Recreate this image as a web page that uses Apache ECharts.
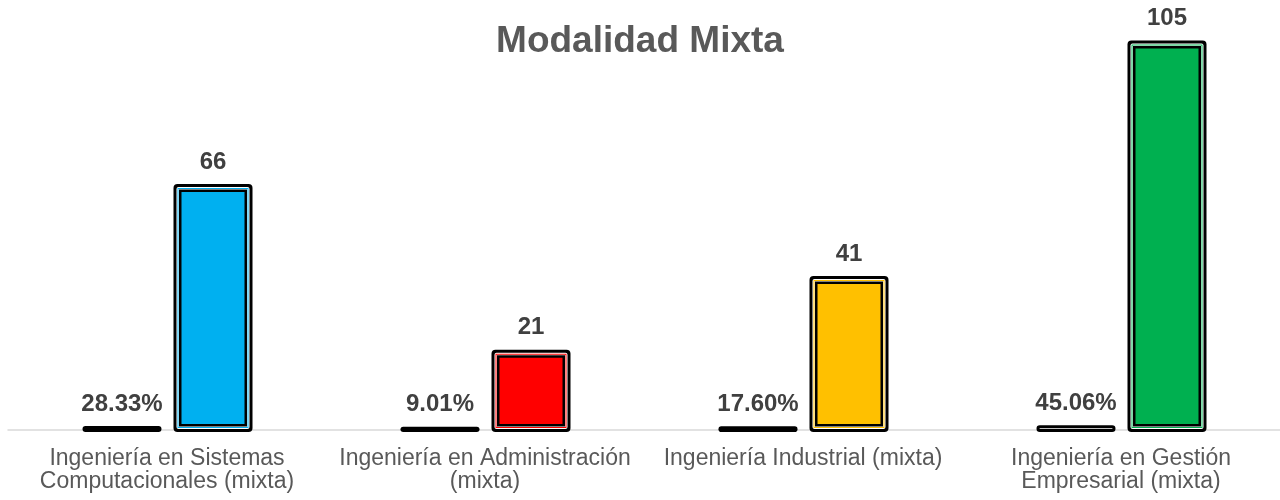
<!DOCTYPE html>
<html>
<head>
<meta charset="utf-8">
<script src="https://cdn.jsdelivr.net/npm/echarts@6/dist/echarts.min.js"></script>
<style>
  html, body { margin: 0; padding: 0; background: #fff; }
  #main { width: 1280px; height: 500px; }
</style>
</head>
<body>
<div id="main"></div>
<script>
// data
const categories = [
  "Ingeniería en Sistemas\nComputacionales (mixta)",
  "Ingeniería en Administración\n(mixta)",
  "Ingeniería Industrial (mixta)",
  "Ingeniería en Gestión\nEmpresarial (mixta)"
];
const shares = [0.2833, 0.0901, 0.1760, 0.4506];
const counts = [66, 21, 41, 105];
const barColors = ["#00B0F0", "#FF0000", "#FFC000", "#00B050"];

const BAR_W = 79;
const FONT = "Liberation Sans, Arial, sans-serif";

// framed bar: black outer frame, white gap, thin colour line, black inner frame, fill
function framedBar(offset, fmt) {
  return function (params, api) {
    const idx = api.value(0);
    const val = api.value(1);
    const base = api.coord([idx, 0]);
    const top = api.coord([idx, val]);
    const cx = base[0] + offset;
    const x0 = cx - BAR_W / 2;
    const y0 = top[1] - 3;
    const y1 = base[1] + 2;
    const color = barColors[idx];
    const layer = function (inset, fill, r) {
      const h = Math.max(0, y1 - y0 - inset * 2);
      const w = Math.max(0, BAR_W - inset * 2);
      return {
        type: "rect",
        shape: { x: x0 + inset, y: y0 + inset, width: w, height: h, r: r },
        style: { fill: fill }
      };
    };
    return {
      type: "group",
      children: [
        layer(0, "#000", 4),
        layer(3, "#fff", 2),
        layer(4, color, 0),
        layer(5, "#fff", 0),
        layer(5.5, "#000", 0),
        layer(8, color, 0),
        {
          type: "text",
          style: {
            text: fmt(val),
            x: cx,
            y: y0 - 10,
            align: "center",
            verticalAlign: "bottom",
            fontFamily: FONT,
            fontWeight: "bold",
            fontSize: 24,
            fill: "#404040"
          }
        }
      ]
    };
  };
}

const chart = echarts.init(document.getElementById("main"));
chart.setOption({
  animation: false,
  title: {
    text: "Modalidad Mixta",
    left: "center",
    top: 18,
    textStyle: {
      fontFamily: FONT,
      fontSize: 37,
      fontWeight: "bold",
      color: "#595959"
    }
  },
  grid: { left: 8, right: -8, top: 25, bottom: 70 },
  xAxis: {
    type: "category",
    data: categories,
    axisTick: { show: false },
    axisLine: { lineStyle: { color: "#d9d9d9", width: 1.5 } },
    axisLabel: {
      interval: 0,
      margin: 17,
      fontFamily: FONT,
      fontSize: 23,
      lineHeight: 23,
      color: "#595959"
    }
  },
  yAxis: {
    type: "value",
    min: 0,
    max: 110,
    show: false
  },
  series: [
    {
      type: "custom",
      renderItem: framedBar(-45, v => (v * 100).toFixed(2) + "%"),
      data: shares.map((v, i) => [i, v]),
      z: 3
    },
    {
      type: "custom",
      renderItem: framedBar(46, v => String(v)),
      data: counts.map((v, i) => [i, v]),
      z: 3
    }
  ]
});
</script>
</body>
</html>
